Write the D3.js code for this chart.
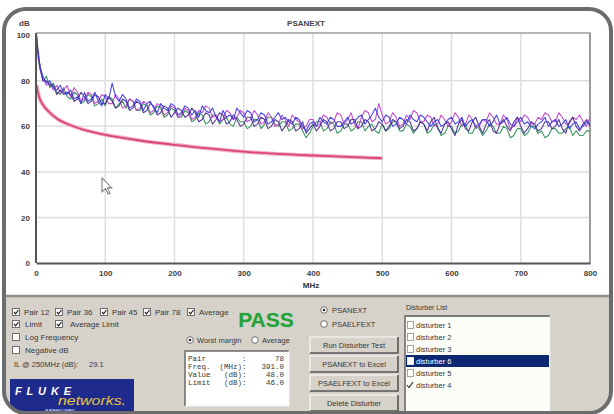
<!DOCTYPE html>
<html><head><meta charset="utf-8">
<script src="https://cdn.jsdelivr.net/npm/d3@7"></script>
<style>
body{margin:0;background:#fff}
svg{display:block}
text{font-family:"Liberation Sans",Arial,sans-serif}
.mono{font-family:"Liberation Mono","DejaVu Sans Mono",monospace;white-space:pre}
</style>
</head><body>
<svg id="c" width="614" height="414"></svg>
<script>
// ---------- data ----------
const chartTitle = "PSANEXT";
const yUnit = "dB";
const xUnit = "MHz";
const xTicks = [0,100,200,300,400,500,600,700,800];
const yTicks = [0,20,40,60,80,100];

const freqs = [1,2,4,6,8,10,15,20,25,30,35,40,45,
  50,55,60,65,70,75,80,85,90,95,
  100,105,110,115,120,125,130,135,140,145,
  150,155,160,165,170,175,180,185,190,195,
  200,205,210,215,220,225,230,235,240,245,
  250,255,260,265,270,275,280,285,290,295,
  300,305,310,315,320,325,330,335,340,345,
  350,355,360,365,370,375,380,385,390,395,
  400,405,410,415,420,425,430,435,440,445,
  450,455,460,465,470,475,480,485,490,495,
  500,505,510,515,520,525,530,535,540,545,
  550,555,560,565,570,575,580,585,590,595,
  600,605,610,615,620,625,630,635,640,645,
  650,655,660,665,670,675,680,685,690,695,
  700,705,710,715,720,725,730,735,740,745,
  750,755,760,765,770,775,780,785,790,795,
  800];

const pair12 = [99,95,90,86,84,82,79,80,77,76,78,75,74,
  76,72,73,70,75,71,72,75,71,69,
  74,72,79,73,71,74,72,68,69,72,
  71,67,70,71,68,66,70,68,67,70,
  69,65,66,69,68,65,67,64,69,67,
  66,68,64,62,67,64,65,63,68,66,
  64,67,66,62,63,66,65,61,62,64,
  66,63,64,62,61,64,63,60,58,61,
  62,60,64,62,61,64,63,60,60,62,
  64,61,62,64,65,61,63,65,68,64,
  62,65,64,60,61,64,63,61,65,63,
  62,65,64,62,60,62,63,60,61,63,
  64,61,62,64,60,62,63,60,61,63,
  63,60,62,65,61,62,64,61,60,62,
  64,61,62,60,59,61,62,64,60,62,
  63,60,61,63,59,61,62,59,60,62,
  61];

const pair36 = [97,93,88,85,83,80,82,77,79,75,74,77,73,
  72,75,74,70,71,74,73,69,70,72,
  69,73,72,68,70,71,68,72,71,67,
  67,70,69,65,66,69,68,64,65,68,
  67,64,64,67,66,62,63,66,65,61,
  62,65,65,61,63,64,61,60,64,62,
  62,59,60,63,63,59,61,64,64,61,
  60,62,62,58,59,61,61,58,55,57,
  60,62,62,58,59,62,61,57,58,61,
  61,58,59,62,62,58,60,61,58,57,
  61,58,59,62,62,58,58,61,60,57,
  59,62,61,57,58,61,60,56,57,60,
  60,57,58,61,61,57,57,60,59,56,
  58,61,60,57,57,60,59,55,56,59,
  59,56,57,60,60,57,58,55,56,59,
  59,57,57,59,60,56,58,56,56,58,
  58];

const pair45 = [98,94,89,87,82,81,78,79,76,78,75,76,78,
  73,77,75,71,72,75,74,70,71,74,
  73,70,70,74,72,68,69,72,71,67,
  68,71,70,66,67,70,69,65,66,69,
  68,64,65,68,67,63,64,67,66,69,
  68,64,65,62,63,67,66,63,64,67,
  66,62,63,67,65,61,62,66,64,60,
  61,65,63,60,65,63,62,59,60,63,
  63,60,61,65,64,61,62,66,65,61,
  63,66,61,59,64,67,66,62,63,70,
  65,61,62,66,64,60,61,65,63,67,
  66,62,62,65,64,60,61,65,63,60,
  62,66,64,60,61,65,63,59,60,63,
  62,66,64,61,61,65,63,59,60,64,
  62,65,64,61,61,64,63,66,65,62,
  62,66,64,61,61,64,63,65,62,60,
  64];

const pair78 = [100,96,91,85,83,80,80,78,78,74,76,74,75,
  74,71,72,75,73,70,71,74,73,70,
  70,73,71,68,69,72,71,67,68,71,
  70,66,67,70,69,65,66,69,68,64,
  66,68,67,64,65,68,66,62,63,66,
  65,61,63,66,65,61,62,65,63,60,
  61,64,64,60,61,64,63,59,60,63,
  62,58,60,63,62,58,59,62,57,59,
  61,58,60,63,62,58,59,62,62,59,
  60,63,63,59,60,63,62,58,59,62,
  61,58,60,63,62,59,60,63,62,58,
  59,62,61,58,62,64,59,57,61,62,
  59,56,61,63,59,58,62,64,60,57,
  61,63,58,57,61,63,60,58,62,64,
  60,57,59,62,61,58,59,62,62,59,
  60,63,59,57,62,64,60,58,61,63,
  60];

const seriesNames  = ["Pair 36","Pair 45","Pair 78","Pair 12"];
const seriesValues = [pair36, pair45, pair78, pair12];
const seriesColors = ["#2f8f55","#c23fc8","#4a2a90","#3a3ae6"];

const limitFreqs  = [1,2,5,10,20,30,50,75,100,150,200,250,300,350,400,450,500];
const limitValues = [78,76,72.5,69.5,66,63.5,60.5,58,56.3,53.8,51.9,50.3,48.9,47.9,47.2,46.6,46.0];

const pairChecks   = ["Pair 12","Pair 36","Pair 45","Pair 78","Average"];
const limitChecks  = ["Limit","Average Limit"];
const optionChecks = ["Log Frequency","Negative dB"];
const ilLabel = "IL @ 250MHz (dB):", ilValue = "29.1";
const resultText = "PASS";
const marginModes = ["Worst margin","Average"];
const infoLabels = ["Pair        :","Freq.  (MHz):","Value   (dB):","Limit   (dB):"];
const infoValues = ["78","391.0","48.0","46.0"];
const testModes = ["PSANEXT","PSAELFEXT"];
const buttonLabels = ["Run Disturber Test","PSANEXT to Excel","PSAELFEXT to Excel","Delete Disturber"];
const listTitle = "Disturber List";
const disturbers = ["disturber 1","disturber 2","disturber 3","disturber 6","disturber 5","disturber 4"];
const disturberChecked = [false,false,false,false,false,true];
const selectedDisturber = 3;

// ---------- drawing ----------
const svg = d3.select("#c");
const defs = svg.append("defs");
defs.append("clipPath").attr("id","frameClip")
  .append("rect").attr("x",4).attr("y",9).attr("width",607).attr("height",404).attr("rx",22);

const root = svg.append("g").attr("clip-path","url(#frameClip)");
root.append("rect").attr("x",0).attr("y",0).attr("width",614).attr("height",296).attr("fill","#ffffff");
root.append("rect").attr("x",0).attr("y",296).attr("width",614).attr("height",120).attr("fill","#d6d2ca");
root.append("line").attr("x1",0).attr("x2",614).attr("y1",296).attr("y2",296)
  .attr("stroke","#8e8e8e").attr("stroke-width",2.5);

// chart
const L=36, R=590, T=33, B=263;
const x = d3.scaleLinear().domain([0,800]).range([L,R]);
const y = d3.scaleLinear().domain([0,101]).range([B,T]);

const grid = root.append("g");
grid.selectAll("line.v").data(xTicks.slice(1,-1)).join("line")
  .attr("x1",d=>x(d)).attr("x2",d=>x(d)).attr("y1",T).attr("y2",B)
  .attr("stroke","#dedede").attr("stroke-width",1.5);
grid.selectAll("line.h").data(yTicks.slice(1,-1)).join("line")
  .attr("x1",L).attr("x2",R).attr("y1",d=>y(d)).attr("y2",d=>y(d))
  .attr("stroke","#dedede").attr("stroke-width",1.5);

root.append("line").attr("x1",L).attr("x2",R+1).attr("y1",T).attr("y2",T).attr("stroke","#9c9c9c").attr("stroke-width",1.5);
root.append("line").attr("x1",R).attr("x2",R).attr("y1",T).attr("y2",B).attr("stroke","#9c9c9c").attr("stroke-width",2);

const line = d3.line().x(d=>x(d[0])).y(d=>y(d[1]));
const plot = root.append("g");
seriesValues.forEach((vals,i)=>{
  plot.append("path").datum(freqs.map((f,j)=>[f,vals[j]]))
    .attr("d",line).attr("fill","none").attr("stroke",seriesColors[i])
    .attr("stroke-width",1.1).attr("stroke-linejoin","round").attr("opacity",0.92);
});
const limitData = limitFreqs.map((f,j)=>[f,limitValues[j]]);
const limitLine = d3.line().curve(d3.curveMonotoneX).x(d=>x(d[0])).y(d=>y(d[1]));
plot.append("path").datum(limitData).attr("d",limitLine).attr("fill","none")
  .attr("stroke","#f2b0c4").attr("stroke-width",4);
plot.append("path").datum(limitData).attr("d",limitLine).attr("fill","none")
  .attr("stroke","#d94873").attr("stroke-width",1.8);

const ax = root.append("g").attr("transform",`translate(0,${B})`)
  .call(d3.axisBottom(x).tickValues(xTicks).tickSize(0).tickPadding(7).tickFormat(d3.format("d")));
const ay = root.append("g").attr("transform",`translate(${L},0)`)
  .call(d3.axisLeft(y).tickValues(yTicks).tickSize(0).tickPadding(6).tickFormat(d3.format("d")));
[ax,ay].forEach(a=>{
  a.select(".domain").attr("stroke","#555").attr("stroke-width",2);
  a.selectAll("text").attr("font-size",8).attr("font-weight","bold").attr("fill","#404040")
    .attr("font-family","Liberation Sans, Arial, sans-serif");
});
ay.select(".domain").attr("d",`M0,${B}V${T}`);

root.append("text").attr("x",306).attr("y",26).attr("text-anchor","middle")
  .attr("font-size",8).attr("font-weight","bold").attr("fill","#444").text(chartTitle);
root.append("text").attr("x",19).attr("y",26).attr("font-size",8).attr("font-weight","bold").attr("fill","#444").text(yUnit);
root.append("text").attr("x",311).attr("y",288).attr("text-anchor","middle")
  .attr("font-size",8).attr("font-weight","bold").attr("fill","#333").text(xUnit);

// mouse pointer
root.append("path").attr("transform","translate(102,178) scale(1.15)")
  .attr("d","M0,0 L0,12 L3,9.3 L5.3,14 L7,13.2 L4.8,8.6 L8.5,8.6 Z")
  .attr("fill","#fff").attr("stroke","#7a7a7a").attr("stroke-width",0.9);

// ---------- control panel ----------
const ui = root.append("g");
const TXT = "#383838";
function checkbox(px,cy,checked,sel){
  ui.append("rect").attr("x",px+0.5).attr("y",cy-3.5).attr("width",7).attr("height",7)
    .attr("fill","#fff").attr("stroke",sel?"#fff":"#6e6e6e").attr("stroke-width",1);
  if(checked) ui.append("path").attr("d",`M${px+2},${cy} L${px+3.6},${cy+1.8} L${px+6.5},${cy-2}`)
    .attr("fill","none").attr("stroke","#222").attr("stroke-width",1.2);
}
function radio(cx,cy,checked){
  ui.append("circle").attr("cx",cx).attr("cy",cy).attr("r",3.3).attr("fill","#fff").attr("stroke","#707070");
  if(checked) ui.append("circle").attr("cx",cx).attr("cy",cy).attr("r",1.3).attr("fill","#222");
}
function label(px,cy,t,size){
  return ui.append("text").attr("x",px).attr("y",cy+3).attr("font-size",size||8).attr("fill",TXT).text(t);
}

const pairX = [12,55,100,143,187];
pairChecks.forEach((t,i)=>{ checkbox(pairX[i],312,true); label(pairX[i]+12,312,t,8); });
[[12,25],[55,70]].forEach((p,i)=>{ checkbox(p[0],324,true); label(p[1],324,limitChecks[i],8); });
[337,350].forEach((cy,i)=>{ checkbox(12,cy,false); label(25,cy,optionChecks[i],8); });
label(14,364,ilLabel,7.5);
label(89,364,ilValue,7.5);

ui.append("text").attr("x",266).attr("y",327).attr("text-anchor","middle")
  .attr("font-size",21).attr("font-weight","bold").attr("fill","#27a03b")
  .attr("stroke","#8fd49a").attr("stroke-width",0.6).attr("paint-order","stroke").text(resultText);

radio(190,340,true); label(197,340,marginModes[0],7.5);
radio(255,340,false); label(262,340,marginModes[1],7.5);

// info box
ui.append("rect").attr("x",185).attr("y",351).attr("width",104).attr("height",55).attr("fill","#fff");
ui.append("path").attr("d","M185,406 V351 H289").attr("fill","none").attr("stroke","#6a6a6a").attr("stroke-width",1.5);
ui.append("path").attr("d","M289,351 V406 H185").attr("fill","none").attr("stroke","#f4f4f4").attr("stroke-width",1);
infoLabels.forEach((t,i)=>{
  const cy = 358 + i*8;
  ui.append("text").attr("class","mono").attr("x",188).attr("y",cy+2.5).attr("font-size",7.5).attr("fill",TXT).text(t);
  ui.append("text").attr("class","mono").attr("x",284).attr("y",cy+2.5).attr("text-anchor","end").attr("font-size",7.5).attr("fill",TXT).text(infoValues[i]);
});

// radio group
radio(324,310,true); label(332,310,testModes[0],7.5);
radio(324,324,false); label(332,324,testModes[1],7.5);

// buttons
const btnY = [337,356,375,395];
buttonLabels.forEach((t,i)=>{
  const bx=310, by=btnY[i], bw=88, bh=16;
  ui.append("rect").attr("x",bx).attr("y",by).attr("width",bw).attr("height",bh).attr("fill","#d6d2ca");
  ui.append("path").attr("d",`M${bx},${by+bh} V${by} H${bx+bw}`).attr("fill","none").attr("stroke","#fbfbfb").attr("stroke-width",1.2);
  ui.append("path").attr("d",`M${bx+bw},${by} V${by+bh} H${bx}`).attr("fill","none").attr("stroke","#555").attr("stroke-width",1.6);
  ui.append("text").attr("x",bx+bw/2).attr("y",by+bh/2+3).attr("text-anchor","middle")
    .attr("font-size",7.5).attr("fill",TXT).text(t);
});

// disturber list
label(406,307,listTitle,7);
const lx=405, ly=316, lw=145, lh=98;
ui.append("rect").attr("x",lx).attr("y",ly).attr("width",lw).attr("height",lh).attr("fill","#fdfdf8");
ui.append("path").attr("d",`M${lx},${ly+lh} V${ly} H${lx+lw}`).attr("fill","none").attr("stroke","#7a7a7a").attr("stroke-width",1.8);
ui.append("path").attr("d",`M${lx+lw},${ly} V${ly+lh}`).attr("fill","none").attr("stroke","#e8e8e8").attr("stroke-width",1);
disturbers.forEach((t,i)=>{
  const cy = 325 + i*12;
  const sel = i===selectedDisturber;
  if(sel) ui.append("rect").attr("x",406).attr("y",cy-6).attr("width",143).attr("height",12).attr("fill","#0d2870");
  if(disturberChecked[i]){
    ui.append("path").attr("d",`M${407},${cy} L${409},${cy+2.5} L${413},${cy-3}`).attr("fill","none").attr("stroke","#333").attr("stroke-width",1.2);
  } else {
    ui.append("rect").attr("x",407.5).attr("y",cy-3.5).attr("width",6).attr("height",7)
      .attr("fill","#fff").attr("stroke",sel?"#fff":"#8a8a8a").attr("stroke-width",0.8);
  }
  ui.append("text").attr("x",416).attr("y",cy+3).attr("font-size",7.5)
    .attr("fill",sel?"#ffffff":TXT).text(t);
});

// logo
const logo = ui.append("g");
logo.append("rect").attr("x",10).attr("y",379).attr("width",124).attr("height",40).attr("fill","#1e2a8c");
logo.append("text").attr("x",15).attr("y",395).attr("font-size",11).attr("font-weight","bold")
  .attr("font-style","italic").attr("fill","#ffffff").attr("textLength",56).attr("lengthAdjust","spacing").text("FLUKE");
logo.append("text").attr("x",58).attr("y",405).attr("font-size",13).attr("font-style","italic")
  .attr("fill","#e8c640").attr("textLength",68).attr("lengthAdjust","spacingAndGlyphs").text("networks.");
logo.append("text").attr("x",45).attr("y",412).attr("font-size",4).attr("fill","#cfd3ff")
  .attr("textLength",30).attr("lengthAdjust","spacing").text("A DANAHER COMPANY");

// outer frame
svg.append("rect").attr("x",4).attr("y",9).attr("width",607).attr("height",404).attr("rx",22)
  .attr("fill","none").attr("stroke","#6c6c6c").attr("stroke-width",4);
</script>
</body></html>
